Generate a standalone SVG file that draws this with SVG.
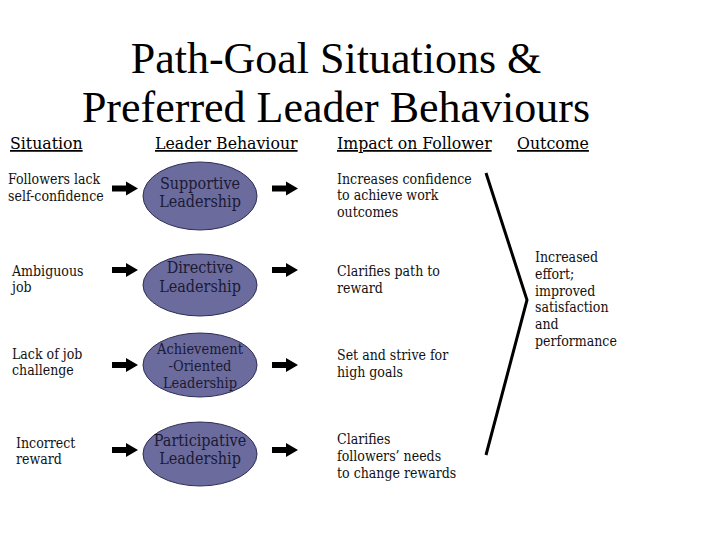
<svg xmlns="http://www.w3.org/2000/svg" width="720" height="540" viewBox="0 0 720 540">
<style>
.title{font-family:"Liberation Serif","Times New Roman",serif;font-size:44px;fill:#000;text-anchor:middle}
.hd{font-family:"DejaVu Serif Condensed","DejaVu Serif",serif;font-size:17.5px;fill:#000;text-decoration:underline}
.t{font-family:"DejaVu Serif Condensed","DejaVu Serif",serif;font-size:14px;fill:#111}
.lt{font-family:"DejaVu Serif Condensed","DejaVu Serif",serif;font-size:16px;fill:#1a1a33;text-anchor:middle}
.sm{font-size:14.5px}
.ell{fill:#6b6b9e;stroke:#2e2e55;stroke-width:1}
.arr{fill:#000}
.line{fill:none;stroke:#000;stroke-width:3;stroke-linejoin:miter}
</style>
<defs>
<path id="arrow" d="M0,-3 H14 V-7 L26,0 L14,7 V3 H0 Z"/>
</defs>
<rect width="720" height="540" fill="#fff"/>
<g id="title">
<text class="title" x="336" y="73">Path-Goal Situations &amp;</text>
<text class="title" x="336" y="122">Preferred Leader Behaviours</text>
</g>
<g id="headings">
<text class="hd" x="10" y="149">Situation</text>
<text class="hd" x="155" y="149">Leader Behaviour</text>
<text class="hd" x="337" y="149">Impact on Follower</text>
<text class="hd" x="517" y="149">Outcome</text>
</g>
<g id="situations">
<text class="t" x="8" y="184">Followers lack</text>
<text class="t" x="8" y="201">self-confidence</text>
<text class="t" x="12" y="276">Ambiguous</text>
<text class="t" x="12" y="292">job</text>
<text class="t" x="12" y="359">Lack of job</text>
<text class="t" x="12" y="375">challenge</text>
<text class="t" x="16" y="448">Incorrect</text>
<text class="t" x="16" y="464">reward</text>
</g>
<g id="supportive">
<ellipse class="ell" cx="200" cy="196" rx="57" ry="34"/>
<text class="lt" x="200" y="189">Supportive</text>
<text class="lt" x="200" y="207">Leadership</text>
</g>
<g id="directive">
<ellipse class="ell" cx="200" cy="285" rx="57" ry="31"/>
<text class="lt" x="200" y="273">Directive</text>
<text class="lt" x="200" y="292">Leadership</text>
</g>
<g id="achievement">
<ellipse class="ell" cx="200" cy="365" rx="57" ry="32"/>
<text class="lt sm" x="200" y="354">Achievement</text>
<text class="lt sm" x="200" y="371">-Oriented</text>
<text class="lt sm" x="200" y="388">Leadership</text>
</g>
<g id="participative">
<ellipse class="ell" cx="200" cy="454" rx="57" ry="32"/>
<text class="lt" x="200" y="446">Participative</text>
<text class="lt" x="200" y="464">Leadership</text>
</g>
<g id="impacts">
<text class="t" x="337" y="184">Increases confidence</text>
<text class="t" x="337" y="200">to achieve work</text>
<text class="t" x="337" y="217">outcomes</text>
<text class="t" x="337" y="276">Clarifies path to</text>
<text class="t" x="337" y="293">reward</text>
<text class="t" x="337" y="360">Set and strive for</text>
<text class="t" x="337" y="377">high goals</text>
<text class="t" x="337" y="444">Clarifies</text>
<text class="t" x="337" y="461">followers’ needs</text>
<text class="t" x="337" y="478">to change rewards</text>
</g>
<g id="outcome">
<text class="t" x="535" y="262">Increased</text>
<text class="t" x="535" y="279">effort;</text>
<text class="t" x="535" y="296">improved</text>
<text class="t" x="535" y="312">satisfaction</text>
<text class="t" x="535" y="329">and</text>
<text class="t" x="535" y="346">performance</text>
</g>
<g id="connectors">
<use href="#arrow" class="arr" x="112" y="188.5"/>
<use href="#arrow" class="arr" x="272" y="188.5"/>
<use href="#arrow" class="arr" x="112" y="270"/>
<use href="#arrow" class="arr" x="272" y="270"/>
<use href="#arrow" class="arr" x="112" y="365"/>
<use href="#arrow" class="arr" x="272" y="365"/>
<use href="#arrow" class="arr" x="112" y="450"/>
<use href="#arrow" class="arr" x="272" y="450"/>
<polyline class="line" points="486,173 527,300 486,455"/>
</g>
</svg>
